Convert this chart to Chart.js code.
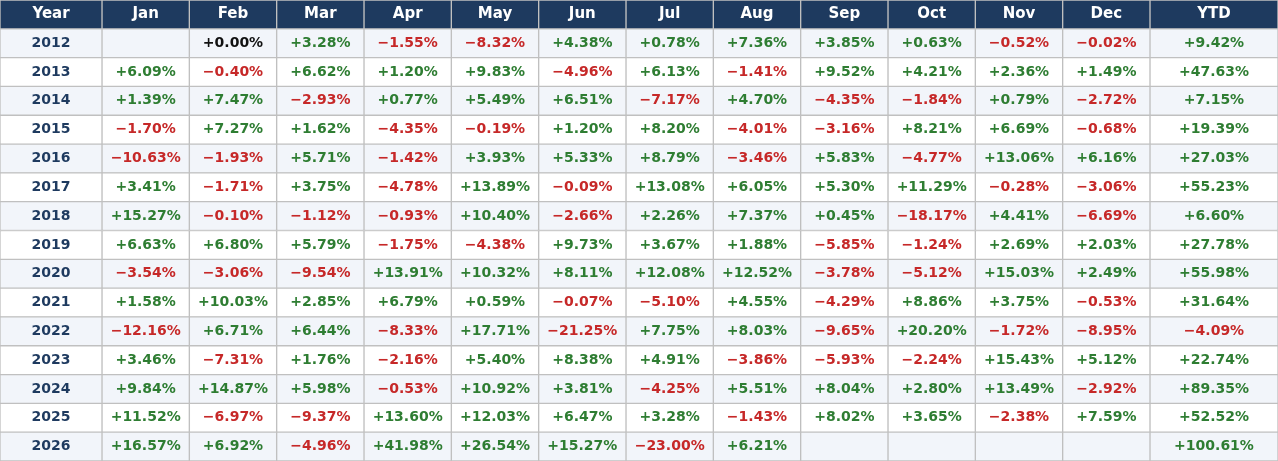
<!DOCTYPE html>
<html>
<head>
<meta charset="utf-8">
<script src="https://cdn.jsdelivr.net/npm/chart.js@4"></script>
<style>
    html, body { margin: 0; padding: 0; background: #ffffff; }
    #wrap { width: 1278px; height: 461px; position: relative; }
</style>
</head>
<body>
<div id="wrap"><canvas id="returnsTable"></canvas></div>
<script>
// Datos de la tabla
const years = [2012, 2013, 2014, 2015, 2016, 2017, 2018, 2019, 2020, 2021, 2022, 2023, 2024, 2025, 2026];
const months = ['Jan', 'Feb', 'Mar', 'Apr', 'May', 'Jun', 'Jul', 'Aug', 'Sep', 'Oct', 'Nov', 'Dec'];

// Rentabilidad mensual (%) por año, null = sin dato
const monthlyReturns = [
    [null, 0.00, 3.28, -1.55, -8.32, 4.38, 0.78, 7.36, 3.85, 0.63, -0.52, -0.02],
    [6.09, -0.40, 6.62, 1.20, 9.83, -4.96, 6.13, -1.41, 9.52, 4.21, 2.36, 1.49],
    [1.39, 7.47, -2.93, 0.77, 5.49, 6.51, -7.17, 4.70, -4.35, -1.84, 0.79, -2.72],
    [-1.70, 7.27, 1.62, -4.35, -0.19, 1.20, 8.20, -4.01, -3.16, 8.21, 6.69, -0.68],
    [-10.63, -1.93, 5.71, -1.42, 3.93, 5.33, 8.79, -3.46, 5.83, -4.77, 13.06, 6.16],
    [3.41, -1.71, 3.75, -4.78, 13.89, -0.09, 13.08, 6.05, 5.30, 11.29, -0.28, -3.06],
    [15.27, -0.10, -1.12, -0.93, 10.40, -2.66, 2.26, 7.37, 0.45, -18.17, 4.41, -6.69],
    [6.63, 6.80, 5.79, -1.75, -4.38, 9.73, 3.67, 1.88, -5.85, -1.24, 2.69, 2.03],
    [-3.54, -3.06, -9.54, 13.91, 10.32, 8.11, 12.08, 12.52, -3.78, -5.12, 15.03, 2.49],
    [1.58, 10.03, 2.85, 6.79, 0.59, -0.07, -5.10, 4.55, -4.29, 8.86, 3.75, -0.53],
    [-12.16, 6.71, 6.44, -8.33, 17.71, -21.25, 7.75, 8.03, -9.65, 20.20, -1.72, -8.95],
    [3.46, -7.31, 1.76, -2.16, 5.40, 8.38, 4.91, -3.86, -5.93, -2.24, 15.43, 5.12],
    [9.84, 14.87, 5.98, -0.53, 10.92, 3.81, -4.25, 5.51, 8.04, 2.80, 13.49, -2.92],
    [11.52, -6.97, -9.37, 13.60, 12.03, 6.47, 3.28, -1.43, 8.02, 3.65, -2.38, 7.59],
    [16.57, 6.92, -4.96, 41.98, 26.54, 15.27, -23.00, 6.21, null, null, null, null]
];
const ytdReturns = [9.42, 47.63, 7.15, 19.39, 27.03, 55.23, 6.60, 27.78, 55.98, 31.64, -4.09, 22.74, 89.35, 52.52, 100.61];

// Diseño: ancho relativo de cada columna
const yearColWidth = 102;
const monthColWidth = 87.33;
const ytdColWidth = 128;

const HEADER_BG = '#1e3a5f';
const ROW_ODD = '#f2f5fa';
const ROW_EVEN = '#ffffff';
const GRID = '#c0c0c0';
const GREEN = '#2e7d32';
const RED = '#c62828';
const FONT = 'bold 14px "DejaVu Sans"';
const HEADER_FONT = 'bold 15px "DejaVu Sans"';

const columns = ['Year'].concat(months, ['YTD']);
const rowLabels = ['header'].concat(years.map(String));

function formatPct(v) {
    if (v === null || v === undefined) return '';
    const txt = Math.abs(v).toFixed(2) + '%';
    return (v < 0 ? '\u2212' : '+') + txt;
}

function pctColor(v) {
    if (v > 0) return GREEN;
    if (v < 0) return RED;
    return '#111111';
}

// Texto de cada celda
function cellText(col, row) {
    if (row === 0) return { text: columns[col], color: '#ffffff' };
    const y = row - 1;
    if (col === 0) return { text: String(years[y]), color: HEADER_BG };
    const v = col === columns.length - 1 ? ytdReturns[y] : monthlyReturns[y][col - 1];
    return { text: formatPct(v), color: pctColor(v) };
}

// Un dataset por columna, apilados horizontalmente
const datasets = columns.map(function(name, col) {
    let w = monthColWidth;
    if (col === 0) w = yearColWidth;
    if (col === columns.length - 1) w = ytdColWidth;
    return {
        label: name,
        data: rowLabels.map(function() { return w; }),
        backgroundColor: function(ctx) {
            if (ctx.dataIndex === 0) return HEADER_BG;
            return ctx.dataIndex % 2 === 1 ? ROW_ODD : ROW_EVEN;
        },
        borderColor: GRID,
        borderWidth: 1,
        borderSkipped: false,
        barPercentage: 1,
        categoryPercentage: 1
    };
});

const totalWidth = yearColWidth + monthColWidth * months.length + ytdColWidth;

const cellLabels = {
    id: 'cellLabels',
    afterDatasetsDraw: function(chart) {
        const ctx = chart.ctx;
        ctx.save();
        ctx.textAlign = 'center';
        ctx.textBaseline = 'middle';
        chart.data.datasets.forEach(function(ds, col) {
            chart.getDatasetMeta(col).data.forEach(function(bar, row) {
                const c = cellText(col, row);
                if (!c.text) return;
                const p = bar.getCenterPoint();
                ctx.font = row === 0 ? HEADER_FONT : FONT;
                ctx.fillStyle = c.color;
                ctx.fillText(c.text, p.x, p.y);
            });
        });
        ctx.restore();
    }
};

new Chart(document.getElementById('returnsTable'), {
    type: 'bar',
    data: { labels: rowLabels, datasets: datasets },
    options: {
        indexAxis: 'y',
        responsive: true,
        maintainAspectRatio: false,
        animation: false,
        layout: { padding: 0 },
        plugins: {
            legend: { display: false },
            tooltip: { enabled: false }
        },
        scales: {
            x: { stacked: true, display: false, min: 0, max: totalWidth },
            y: { stacked: true, display: false }
        }
    },
    plugins: [cellLabels]
});
</script>
</body>
</html>
